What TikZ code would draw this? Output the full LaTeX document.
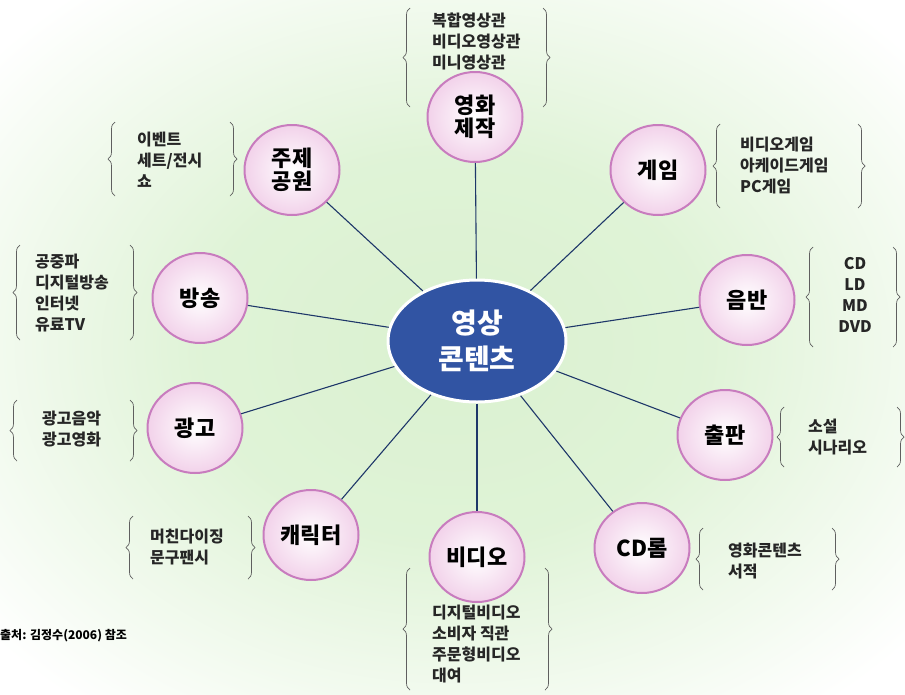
\documentclass[tikz,border=0pt]{standalone}
\usepackage{fontspec}
\setmainfont{Noto Sans CJK KR}
\usepackage{tikz}
\usetikzlibrary{shapes.geometric, decorations.pathreplacing}
\definecolor{HubBlue}{RGB}{49,84,163}
\definecolor{RimPink}{RGB}{200,124,190}
\definecolor{FillPink}{RGB}{242,210,234}
\definecolor{SpokeNavy}{RGB}{30,55,105}
\definecolor{GlowGreen}{RGB}{218,241,208}
\definecolor{BraceGray}{RGB}{95,95,95}
\pgfdeclareradialshading{glow}{\pgfpoint{0bp}{0bp}}{color(0bp)=(GlowGreen); color(14bp)=(GlowGreen!85!white); color(33bp)=(white); color(50bp)=(white)}
\tikzstyle{hub} = [ellipse, draw=white, line width=3pt, fill=HubBlue, text=white, minimum width=178pt, minimum height=122pt, inner sep=0pt, align=center, font=\fontsize{28}{36}\selectfont\bfseries]
\tikzstyle{topic} = [ellipse, draw=RimPink, line width=2pt, inner color=white, outer color=FillPink, minimum width=95pt, minimum height=90pt, inner sep=0pt, align=center, font=\fontsize{22}{23}\selectfont\bfseries]
\tikzstyle{items} = [anchor=west, align=left, inner sep=0pt, text=black!85, font=\fontsize{16}{21}\selectfont\bfseries]
\tikzstyle{spoke} = [draw=SpokeNavy, line width=1.1pt]
\tikzstyle{curly} = [draw=BraceGray, line width=0.7pt, decorate, decoration={brace, amplitude=7pt}]
\newcommand{\itembrace}[4]{%
  \draw [curly] (#1,#4) -- (#1,#3);
  \draw [curly] (#2,#3) -- (#2,#4);}

\begin{document}
\begin{tikzpicture}[x=1pt, y=-1pt]
  \useasboundingbox (0,0) rectangle (905,694);
  % background glow
  \shade [shading=glow] (0,0) rectangle (905,694);

  \node (hub) [hub] at (477,341) {영상\\콘텐츠};
  \node (film) [topic] at (475,117) {영화\\제작};
  \node (park) [topic] at (292,170) {주제\\공원};
  \node (game) [topic] at (658,170) {게임};
  \node (broadcast) [topic] at (200,298) {방송};
  \node (music) [topic] at (747,300) {음반};
  \node (advert) [topic] at (195,428) {광고};
  \node (publish) [topic] at (725,435) {출판};
  \node (character) [topic] at (311,535) {캐릭터};
  \node (video) [topic] at (477,557) {비디오};
  \node (cdrom) [topic] at (642,548) {CD롬};

  \node (film_items) [items] at (432,41) {복합영상관\\비디오영상관\\미니영상관};
  \node (park_items) [items] at (137,160) {이벤트\\세트/전시\\쇼};
  \node (game_items) [items] at (740,165) {비디오게임\\아케이드게임\\PC게임};
  \node (broadcast_items) [items] at (35,293) {공중파\\디지털방송\\인터넷\\유료TV};
  \node (music_items) [items, anchor=center, align=center] at (855,295) {CD\\LD\\MD\\DVD};
  \node (advert_items) [items] at (42,429) {광고음악\\광고영화};
  \node (publish_items) [items] at (808,437) {소설\\시나리오};
  \node (character_items) [items] at (150,547) {머친다이징\\문구팬시};
  \node (cdrom_items) [items] at (728,561) {영화콘텐츠\\서적};
  \node (video_items) [items] at (432,644) {디지털비디오\\소비자 직관\\주문형비디오\\대여};

  \itembrace{410}{543}{8}{107}
  \itembrace{115}{230}{122}{196}
  \itembrace{720}{858}{124}{208}
  \itembrace{20}{130}{245}{340}
  \itembrace{813}{893}{247}{347}
  \itembrace{17}{130}{400}{461}
  \itembrace{784}{897}{407}{467}
  \itembrace{133}{248}{516}{579}
  \itembrace{703}{832}{528}{590}
  \itembrace{410}{545}{568}{690}

  \node (source) [anchor=west, inner sep=0pt, font=\fontsize{12}{14}\selectfont\bfseries] at (0,636) {출처: 김정수(2006) 참조};

  \draw [spoke] (hub) -- (film);
  \draw [spoke] (hub) -- (park);
  \draw [spoke] (hub) -- (game);
  \draw [spoke] (hub) -- (broadcast);
  \draw [spoke] (hub) -- (music);
  \draw [spoke] (hub) -- (advert);
  \draw [spoke] (hub) -- (publish);
  \draw [spoke] (hub) -- (character);
  \draw [spoke] (hub) -- (video);
  \draw [spoke] (hub) -- (cdrom);

\end{tikzpicture}
\end{document}
